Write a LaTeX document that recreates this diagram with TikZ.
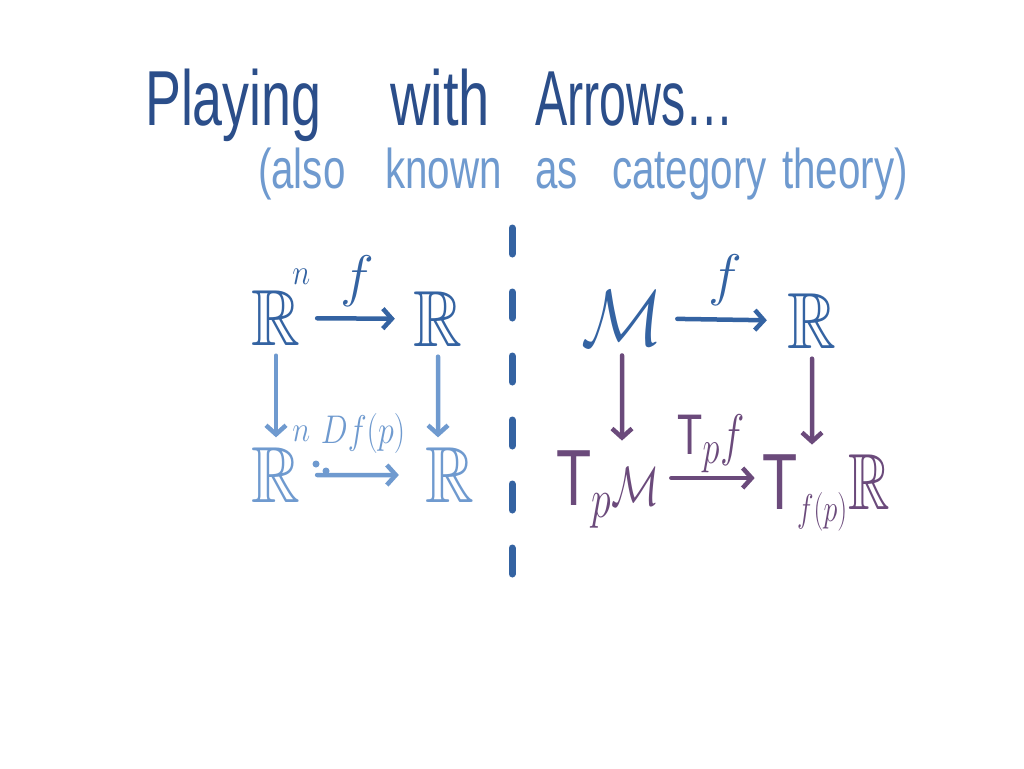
\documentclass[tikz,border=0pt]{standalone}
\usepackage{amssymb}
\usepackage{fontspec}
\setmainfont{Liberation Sans}
\usetikzlibrary{arrows.meta}

\definecolor{titleblue}{HTML}{2B4E8A}
\definecolor{paleblue}{HTML}{6F9ACF}
\definecolor{midblue}{HTML}{3463A2}
\definecolor{plum}{HTML}{6B4A7B}

\tikzset{
  arr/.style={line width=4.5pt, line cap=round, line join=round,
    -{Straight Barb[length=9pt,width=20pt,line width=4.5pt]}},
  obj/.style={font=\Huge, inner sep=3pt, scale=3.2, xscale=0.85},
  lab/.style={font=\Huge, inner sep=0pt, scale=2.3},
  word/.style={anchor=base west, inner sep=0pt},
}
\newcommand{\supn}{\rlap{\smash{\kern-3pt\raisebox{19pt}{\scalebox{0.65}{$\scriptscriptstyle n$}}}}}

\begin{document}
\begin{tikzpicture}[x=1pt,y=-1pt]
      \fill[white] (0,0) rectangle (1024,768);
      \useasboundingbox (0,0) rectangle (1024,768);

      % title and subtitle
      \foreach \w/\x/\s [count=\i] in {Playing/145/0.69, with/390/0.72, Arrows\ldots/535/0.62}{
        \node[word, titleblue, xscale=\s, font=\fontsize{78}{80}\selectfont] (t\i) at (\x,125) {\w};
      }
      \foreach \w/\x [count=\i] in {{(also}/258, known/385, as/535, category/612, {theory)}/782}{
        \node[word, paleblue, xscale=0.72, font=\fontsize{56}{60}\selectfont] (s\i) at (\x,188) {\w};
      }

      % dividing line
      \coordinate (top) at (512,228);
      \coordinate (bot) at (512,580);
      \draw[midblue, line width=7pt, line cap=round, dash pattern=on 26pt off 38pt] (top) -- (bot);

      % left square
      \node[obj, midblue] (Rn1) at (276,318) {$\mathbb{R}\supn$};
      \node[obj, midblue] (R1) at (438,319) {$\mathbb{R}$};
      \node[obj, paleblue] (Rn2) at (276,475) {$\mathbb{R}\supn$};
      \node[obj, paleblue] (R2) at (450,475) {$\mathbb{R}$};

      \draw[arr, midblue, shorten <=8pt, shorten >=10pt] (Rn1) -- (R1) node[lab, midway, above=3pt] {$f$};
      \draw[arr, paleblue] (Rn1) -- (Rn2);
      \draw[arr, paleblue] (R1) -- (R1 |- R2.north);
      \draw[arr, paleblue, shorten <=8pt, shorten >=18pt] (Rn2) -- (R2)
        node[lab, midway, above=8pt, scale=0.7, xscale=0.8] {$Df(p)$};
      \fill[paleblue] (316,464) circle (3.5);
      \fill[paleblue] (326,471) circle (3.5);

      % right square
      \node[obj, midblue] (M) at (622,318) {$\mathcal{M}$};
      \node[obj, midblue] (R3) at (812,321) {$\mathbb{R}$};
      \node[obj, plum, xscale=0.85] (TpM) at (608,478) {$\smash{\mathrm{T}_{\scriptscriptstyle p}\mbox{\LARGE$\mathcal{M}$}}\vphantom{T}$};
      \node[obj, plum, xscale=0.85] (TR) at (826,482) {$\smash{\mathrm{T}_{\scalebox{0.7}{$\scriptscriptstyle f(p)$}}\mathbb{R}}\vphantom{T}$};

      \draw[arr, midblue, shorten <=6pt, shorten >=12pt] (M) -- (R3) node[lab, midway, above=4pt] {$f$};
      \draw[arr, plum] (M) -- (M |- TpM.north);
      \draw[arr, plum] (R3) -- (R3 |- TR.north);
      \draw[arr, plum, shorten <=4pt] (TpM.east) -- (TpM.east -| TR.west)
        node[lab, midway, above=0pt, xscale=0.72] {$\mathrm{T}_pf$};
    \end{tikzpicture}
\end{document}
